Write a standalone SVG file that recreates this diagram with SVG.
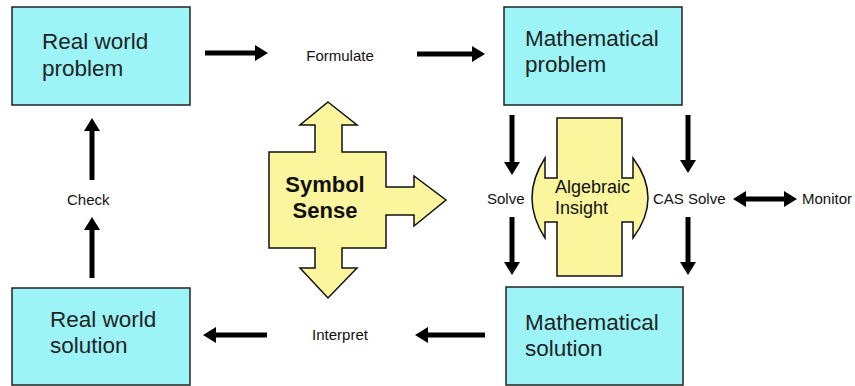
<svg xmlns="http://www.w3.org/2000/svg" width="855" height="386" viewBox="0 0 855 386">
<style>
.box{fill:#9cf4f7;stroke:#222;stroke-width:1.5}
.yel{fill:#fbf59e;stroke:#111;stroke-width:1.5;stroke-linejoin:miter}
.big{font-family:"Liberation Sans",Arial,sans-serif;font-size:22.5px;fill:#1c2424}
.sm{font-family:"Liberation Sans",Arial,sans-serif;font-size:15px;fill:#111}
.bold{font-family:"Liberation Sans",Arial,sans-serif;font-size:22px;font-weight:bold;fill:#111}
.ins{font-family:"Liberation Sans",Arial,sans-serif;font-size:18px;fill:#111}
.arr{stroke:#000;stroke-width:5;fill:none;marker-end:url(#ah)}
</style>
<defs>
<marker id="ah" viewBox="0 0 13 16" refX="3" refY="8" markerWidth="13" markerHeight="16" markerUnits="userSpaceOnUse" orient="auto-start-reverse">
<path d="M0,0 L13,8 L0,16 Z" fill="#000"/>
</marker>
</defs>
<rect width="855" height="386" fill="#fff"/>
<g id="real-world-problem">
<rect class="box" x="12" y="7" width="178" height="98"/>
<text class="big" x="42" y="49">Real world</text>
<text class="big" x="42" y="76">problem</text>
</g>
<g id="mathematical-problem">
<rect class="box" x="504" y="7" width="178" height="98"/>
<text class="big" x="525" y="46">Mathematical</text>
<text class="big" x="525" y="72">problem</text>
</g>
<g id="real-world-solution">
<rect class="box" x="12" y="288" width="178" height="97"/>
<text class="big" x="50" y="327">Real world</text>
<text class="big" x="50" y="353">solution</text>
</g>
<g id="mathematical-solution">
<rect class="box" x="506" y="287" width="177" height="98"/>
<text class="big" x="525" y="330">Mathematical</text>
<text class="big" x="525" y="356">solution</text>
</g>
<g id="symbol-sense">
<path class="yel" d="M328,102 L357,125 L342,125 L342,152 L386,152 L386,187 L414,187 L414,176 L446,200 L414,226 L414,215 L386,215 L386,248 L342,248 L342,268 L357,268 L328,298 L300,268 L315,268 L315,248 L269,248 L269,152 L315,152 L315,125 L300,125 Z"/>
<text class="bold" x="325" y="192" text-anchor="middle">Symbol</text>
<text class="bold" x="325" y="218" text-anchor="middle">Sense</text>
</g>
<g id="algebraic-insight">
<path class="yel" d="M557,118 L622,118 L622,178 L633,178 L633,158 Q663,198 633,238 L633,222 L622,222 L622,276 L557,276 L557,222 L545,222 L545,238 Q519,198 545,158 L545,178 L557,178 Z"/>
<text class="ins" x="555" y="193">Algebraic</text>
<text class="ins" x="555" y="214">Insight</text>
</g>
<g id="labels">
<text class="sm" x="340" y="61" text-anchor="middle">Formulate</text>
<text class="sm" x="340" y="340" text-anchor="middle">Interpret</text>
<text class="sm" x="67" y="205">Check</text>
<text class="sm" x="487" y="204">Solve</text>
<text class="sm" x="653" y="204">CAS Solve</text>
<text class="sm" x="802" y="204">Monitor</text>
</g>
<g id="connectors">
<line class="arr" x1="205" y1="53" x2="258" y2="53"/>
<line class="arr" x1="417" y1="54" x2="475" y2="54"/>
<line class="arr" x1="267" y1="335" x2="213" y2="335"/>
<line class="arr" x1="485" y1="335" x2="425" y2="335"/>
<line class="arr" x1="92" y1="180" x2="92" y2="128"/>
<line class="arr" x1="92" y1="278" x2="92" y2="227"/>
<line class="arr" x1="512" y1="115" x2="512" y2="165"/>
<line class="arr" x1="512" y1="217" x2="512" y2="265"/>
<line class="arr" x1="688" y1="115" x2="688" y2="163"/>
<line class="arr" x1="688" y1="217" x2="688" y2="265"/>
<line class="arr" x1="743" y1="199" x2="787" y2="199" style="marker-start:url(#ah)"/>
</g>
</svg>
